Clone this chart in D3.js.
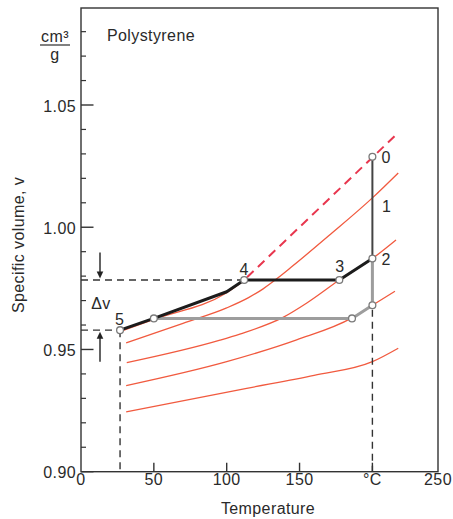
<!DOCTYPE html>
<html>
<head>
<meta charset="utf-8">
<script src="https://cdn.jsdelivr.net/npm/d3@7/dist/d3.min.js"></script>
<style>
  html, body { margin: 0; padding: 0; background: #fff; }
  svg { display: block; }
  text { font-family: "Liberation Sans", Arial, Helvetica, sans-serif; fill: #2a2a2a; font-size: 16px; letter-spacing: 0.4px; }
</style>
</head>
<body>
<svg id="chart" width="453" height="519"></svg>
<script>
// ---------- data ----------
const tempTicks = [0, 50, 100, 150, 200, 250];
const tempTickLabels = ["0", "50", "100", "150", "°C", "250"];
const volMajorTicks = [0.90, 0.95, 1.00, 1.05];
const volMinorTicks = [0.91,0.92,0.93,0.94,0.96,0.97,0.98,0.99,1.01,1.02,1.03,1.04,1.06,1.07,1.08];

// equilibrium melt line (dashed red), [T, v]
const meltLine = [[112, 0.9784], [218.4, 1.038]];
// isobars (solid red), [T, v]
const isobar0 = [[28, 0.9576], [50, 0.9623], [100, 0.9732], [112, 0.9782]];
const isobar1 = [[31, 0.9527], [70, 0.9607], [100, 0.9670], [115, 0.9712], [125, 0.9748], [135, 0.9792], [145, 0.9840], [170, 0.9965], [200, 1.0120], [219.7, 1.0222]];
const isobar2 = [[31.4, 0.9446], [95.4, 0.9538], [109, 0.9563], [139, 0.9632], [155, 0.9690], [177.3, 0.9784], [200, 0.9872], [218, 0.9948]];
const isobar3 = [[31, 0.9352], [100, 0.9450], [148, 0.9539], [186, 0.9629], [200, 0.9681], [217.2, 0.9738]];
const isobar4 = [[31, 0.9245], [113.7, 0.9341], [160, 0.9394], [200, 0.9450], [219.7, 0.9505]];

// process paths
const path02 = [[200, 1.0288], [200, 0.9872]];
const blackPath = [[200, 0.9872], [177.3, 0.9784], [112, 0.9784], [100, 0.9736], [50, 0.9627], [26.8, 0.9579]];
const grayPath = [[50, 0.9627], [186, 0.9627], [200, 0.9681], [200, 0.9872]];
const stateNames = ["0", "2", "3", "4", "5", "", "", ""];
const stateT = [200, 200, 177.3, 112, 26.8, 50, 186, 200];
const stateV = [1.0288, 0.9872, 0.9784, 0.9784, 0.9579, 0.9627, 0.9627, 0.9681];
const label1 = {name: "1", T: 200, v: 1.0120};

// ---------- layout ----------
const svg = d3.select("#chart");
const padL = 81, padR = 438, padT = 8, padB = 471.7;
const x = d3.scaleLinear().domain([0, 200, 250]).range([padL, 372.4, padR]);
const y = d3.scaleLinear().domain([0.90, 1.05]).range([padB, 105]);

const axisColor = "#333";
const redSolid = "#f15a3f";
const redDash = "#e8364e";

// frame
svg.append("rect").attr("x", padL).attr("y", padT).attr("width", padR - padL).attr("height", padB - padT)
  .attr("fill", "none").attr("stroke", axisColor).attr("stroke-width", 1.4);

// y ticks (inside)
svg.append("g").selectAll("line").data(volMajorTicks).join("line")
  .attr("x1", padL).attr("x2", padL + 12.5).attr("y1", d => y(d)).attr("y2", d => y(d))
  .attr("stroke", axisColor).attr("stroke-width", 1.4);
svg.append("g").selectAll("line").data(volMinorTicks).join("line")
  .attr("x1", padL).attr("x2", padL + 5).attr("y1", d => y(d)).attr("y2", d => y(d))
  .attr("stroke", axisColor).attr("stroke-width", 1.2);
svg.append("g").selectAll("text").data(volMajorTicks).join("text")
  .attr("x", 76).attr("y", d => y(d) + 6.5).attr("text-anchor", "end")
  .text(d => d3.format(".2f")(d));

// x ticks (inside)
svg.append("g").selectAll("line").data(tempTicks.slice(1, 5)).join("line")
  .attr("x1", d => x(d)).attr("x2", d => x(d)).attr("y1", padB).attr("y2", padB - 9)
  .attr("stroke", axisColor).attr("stroke-width", 1.4);
svg.append("g").selectAll("text").data(tempTicks).join("text")
  .attr("x", d => x(d)).attr("y", 484.5).attr("text-anchor", "middle")
  .text((d, i) => tempTickLabels[i]);

// axis titles
svg.append("text").attr("x", 268).attr("y", 514).attr("text-anchor", "middle").text("Temperature");
svg.append("text").attr("transform", "translate(23.5,245) rotate(-90)").attr("text-anchor", "middle").text("Specific volume, v");
svg.append("text").attr("x", 107).attr("y", 41).text("Polystyrene");
// unit fraction
svg.append("text").attr("x", 55).attr("y", 41.5).attr("text-anchor", "middle").text("cm³");
svg.append("line").attr("x1", 40).attr("x2", 70).attr("y1", 45).attr("y2", 45).attr("stroke", "#2a2a2a").attr("stroke-width", 1.2);
svg.append("text").attr("x", 55).attr("y", 59.5).attr("text-anchor", "middle").text("g");

const line = d3.line().x(d => x(d[0])).y(d => y(d[1]));
const smooth = d3.line().x(d => x(d[0])).y(d => y(d[1])).curve(d3.curveMonotoneX);

// red isobars
[isobar0, isobar1, isobar2, isobar3, isobar4].forEach(c => {
  svg.append("path").attr("d", smooth(c)).attr("fill", "none").attr("stroke", redSolid).attr("stroke-width", 1.3);
});
svg.append("path").attr("d", line(meltLine)).attr("fill", "none").attr("stroke", redDash)
  .attr("stroke-width", 2).attr("stroke-dasharray", "9,6").attr("stroke-dashoffset", -4);

// black dashed guides
const dashStyle = sel => sel.attr("fill", "none").attr("stroke", "#333").attr("stroke-width", 1.4).attr("stroke-dasharray", "7,5");
dashStyle(svg.append("path").attr("d", line([[0, stateV[3]], [stateT[3], stateV[3]]])));
dashStyle(svg.append("path").attr("d", line([[0, stateV[4]], [stateT[4], stateV[4]]])));
dashStyle(svg.append("path").attr("d", line([[stateT[4], stateV[4]], [stateT[4], 0.90]])));
dashStyle(svg.append("path").attr("d", line([[200, 0.9662], [200, 0.90]])));

// arrows for Δv
const ax = 100;
function arrow(tipY, dir, len) {
  const g = svg.append("g");
  g.append("line").attr("x1", ax).attr("x2", ax).attr("y1", tipY - dir * len).attr("y2", tipY - dir * 4)
    .attr("stroke", "#222").attr("stroke-width", 1.4);
  g.append("path").attr("d", `M${ax},${tipY} L${ax - 3.3},${tipY - dir * 7} L${ax + 3.3},${tipY - dir * 7} Z`).attr("fill", "#222");
}
arrow(y(stateV[3]) - 1.5, 1, 26);
arrow(y(stateV[4]) + 1.5, -1, 30);
svg.append("text").attr("x", 101).attr("y", 308.5).attr("text-anchor", "middle").text("Δv");

// process paths
svg.append("path").attr("d", line(grayPath)).attr("fill", "none").attr("stroke", "#9d9d9d").attr("stroke-width", 3).attr("stroke-linejoin", "round");
svg.append("path").attr("d", line(blackPath)).attr("fill", "none").attr("stroke", "#1c1c1c").attr("stroke-width", 3).attr("stroke-linejoin", "round");
svg.append("path").attr("d", line(path02)).attr("fill", "none").attr("stroke", "#444").attr("stroke-width", 2);

// state points
svg.append("g").selectAll("circle").data(stateT).join("circle")
  .attr("cx", d => x(d)).attr("cy", (d, i) => y(stateV[i])).attr("r", 3.4)
  .attr("fill", "#fff").attr("stroke", "#7a7a7a").attr("stroke-width", 1.3);

// state labels
const labelOffsets = {"0": [9, 6, "start"], "2": [9, 6, "start"], "3": [0.5, -8.5, "middle"], "4": [0, -5, "middle"], "5": [-0.5, -5, "middle"]};
stateNames.forEach((n, i) => {
  if (!n) return;
  const o = labelOffsets[n];
  svg.append("text").attr("x", x(stateT[i]) + o[0]).attr("y", y(stateV[i]) + o[1]).attr("text-anchor", o[2]).text(n);
});
svg.append("text").attr("x", x(label1.T) + 9.5).attr("y", y(label1.v) + 14.5).text(label1.name);
</script>
</body>
</html>
